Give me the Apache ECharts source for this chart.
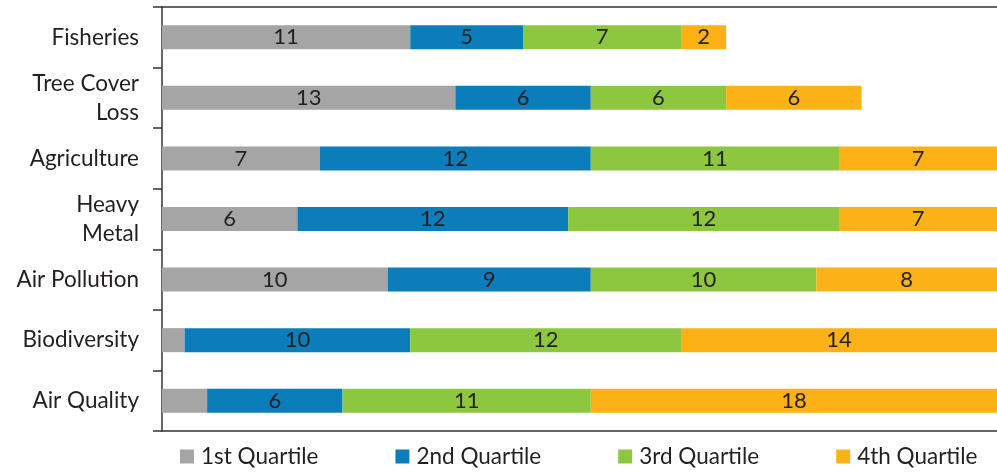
<!DOCTYPE html>
<html><head><meta charset="utf-8">
<script src="https://cdn.jsdelivr.net/npm/echarts@6/dist/echarts.min.js"></script>
<style>html,body{margin:0;padding:0;background:#fff}#c{width:997px;height:472px}</style>
</head><body><div id="c"></div>
<script>
const categories = ['Fisheries', 'Tree Cover\nLoss', 'Agriculture', 'Heavy\nMetal', 'Air Pollution', 'Biodiversity', 'Air Quality'];
const seriesNames = ['1st Quartile', '2nd Quartile', '3rd Quartile', '4th Quartile'];
const q1 = [11, 13, 7, 6, 10, 1, 2];
const q2 = [5, 6, 12, 12, 9, 10, 6];
const q3 = [7, 6, 11, 12, 10, 12, 11];
const q4 = [2, 6, 7, 7, 8, 14, 18];
const colors = ['#a5a5a5', '#0a7dba', '#8dc63f', '#fbb217'];
const FONT = 'Lato';

const chart = echarts.init(document.getElementById('c'));
const data = [q1, q2, q3, q4];
chart.setOption({
  animation: false,
  textStyle: {fontFamily: FONT},
  grid: {left: 162, right: 0, top: 7, bottom: 41, containLabel: false},
  legend: {
    top: 440, left: 175, itemWidth: 14, itemHeight: 14, itemGap: 77,
    icon: 'rect',
    textStyle: {fontFamily: FONT, fontSize: 22.5, color: '#231f20', padding: [0, 0, 0, 2]},
    data: seriesNames
  },
  xAxis: [{
    type: 'value', min: 0, max: 37, position: 'bottom',
    axisLine: {show: true, lineStyle: {color: '#333', width: 1.5}},
    axisTick: {show: false}, axisLabel: {show: false}, splitLine: {show: false}
  }, {
    type: 'value', min: 0, max: 37, position: 'top',
    axisLine: {show: true, lineStyle: {color: '#333', width: 1.5}},
    axisTick: {show: false}, axisLabel: {show: false}, splitLine: {show: false}
  }],
  yAxis: {
    type: 'category', data: categories, inverse: true,
    axisLine: {show: true, lineStyle: {color: '#333', width: 1.5}},
    axisTick: {show: true, length: 9, lineStyle: {color: '#333', width: 1.5}},
    axisLabel: {fontFamily: FONT, fontSize: 22.5, color: '#231f20', margin: 23, lineHeight: 29, align: 'right'}
  },
  series: data.map((d, i) => ({
    name: seriesNames[i], type: 'bar', stack: 'total', barWidth: 24,
    itemStyle: {color: colors[i]},
    label: {
      show: true, position: 'inside', fontFamily: FONT, fontSize: 22, color: '#231f20',
      formatter: p => (i === 0 && p.value < 3) ? '' : String(p.value)
    },
    data: d
  }))
});
</script></body></html>
